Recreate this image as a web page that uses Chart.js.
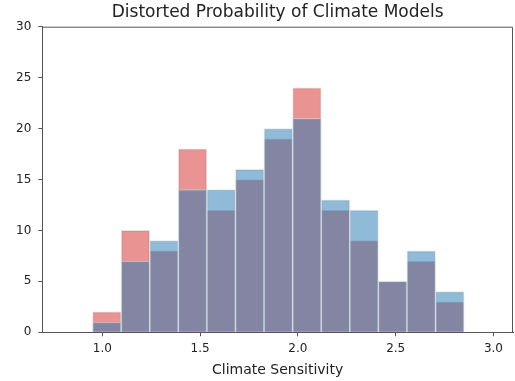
<!DOCTYPE html>
<html>
<head>
<meta charset="utf-8">
<script src="https://cdn.jsdelivr.net/npm/chart.js@4"></script>
<style>
  html, body { margin: 0; padding: 0; background: #fff; }
  #wrap { width: 515px; height: 381px; }
</style>
</head>
<body>
<div id="wrap"><canvas id="histChart" width="515" height="381"></canvas></div>
<script>
// bin centres (13 bins from 0.95 to 2.85)
const binCenters = [1.0231, 1.1692, 1.3154, 1.4615, 1.6077, 1.7538, 1.9000, 2.0462, 2.1923, 2.3385, 2.4846, 2.6308, 2.7769];
const redCounts  = [2, 10, 8, 18, 12, 15, 19, 24, 12, 9, 5, 7, 3];
const blueCounts = [1, 7, 9, 14, 14, 16, 20, 21, 13, 12, 5, 8, 4];
const xTicks = [1.0, 1.5, 2.0, 2.5, 3.0];
const yTicks = [0, 5, 10, 15, 20, 25, 30];

Chart.defaults.font.family = 'DejaVu Sans';
Chart.defaults.color = '#222';

const spineColor = '#555';

// top + right spines like matplotlib
const frame = {
    id: 'frame',
    afterDraw(chart) {
        const { ctx, chartArea: a } = chart;
        ctx.save();
        ctx.strokeStyle = spineColor;
        ctx.lineWidth = 1;
        ctx.beginPath();
        ctx.moveTo(a.left, a.top + 0.5);
        ctx.lineTo(a.right - 0.5, a.top + 0.5);
        ctx.lineTo(a.right - 0.5, a.bottom);
        ctx.stroke();
        ctx.restore();
    }
};

const toPoints = vals => vals.map((v, i) => ({ x: binCenters[i], y: v }));

const ctx = document.getElementById('histChart').getContext('2d');
new Chart(ctx, {
    type: 'bar',
    data: {
        datasets: [
            {
                label: 'blue',
                data: toPoints(blueCounts),
                backgroundColor: 'rgba(31, 119, 180, 0.5)',
                borderColor: 'rgba(211, 211, 211, 0.6)',
                borderWidth: 1
            },
            {
                label: 'red',
                data: toPoints(redCounts),
                backgroundColor: 'rgba(214, 39, 40, 0.5)',
                borderColor: 'rgba(211, 211, 211, 0.6)',
                borderWidth: 1
            }
        ]
    },
    options: {
        responsive: false,
        animation: false,
        grouped: false,
        barPercentage: 1,
        categoryPercentage: 1,
        layout: { padding: { left: 0, right: 2, top: 0, bottom: 0 } },
        plugins: {
            legend: { display: false },
            tooltip: { enabled: false },
            title: {
                display: true,
                fullSize: false,
                text: 'Distorted Probability of Climate Models',
                font: { size: 17, weight: 'normal' },
                color: '#222',
                padding: { top: 2.2, bottom: 4.1 }
            }
        },
        scales: {
            x: {
                type: 'linear',
                min: 0.693,
                max: 3.10,
                offset: false,
                afterBuildTicks: s => { s.ticks = xTicks.map(v => ({ value: v })); },
                afterFit: s => { s.height = 48.7; },
                ticks: {
                    font: { size: 12 },
                    color: '#222',
                    padding: 5.5,
                    maxRotation: 0,
                    autoSkip: false,
                    callback: v => Number(v).toFixed(1)
                },
                grid: { offset: false, drawOnChartArea: false, drawTicks: true, tickLength: 4, color: spineColor },
                border: { display: true, color: spineColor },
                title: {
                    display: true,
                    text: 'Climate Sensitivity',
                    font: { size: 14 },
                    color: '#222',
                    padding: { top: 0, bottom: 2.4 }
                }
            },
            y: {
                min: 0,
                max: 30,
                afterBuildTicks: s => { s.ticks = yTicks.map(v => ({ value: v })); },
                afterFit: s => { s.width = 42.3; },
                ticks: { font: { size: 12 }, color: '#222', padding: 7 },
                grid: { drawOnChartArea: false, drawTicks: true, tickLength: 4, color: spineColor },
                border: { display: true, color: spineColor }
            }
        }
    },
    plugins: [frame]
});
</script>
</body>
</html>
